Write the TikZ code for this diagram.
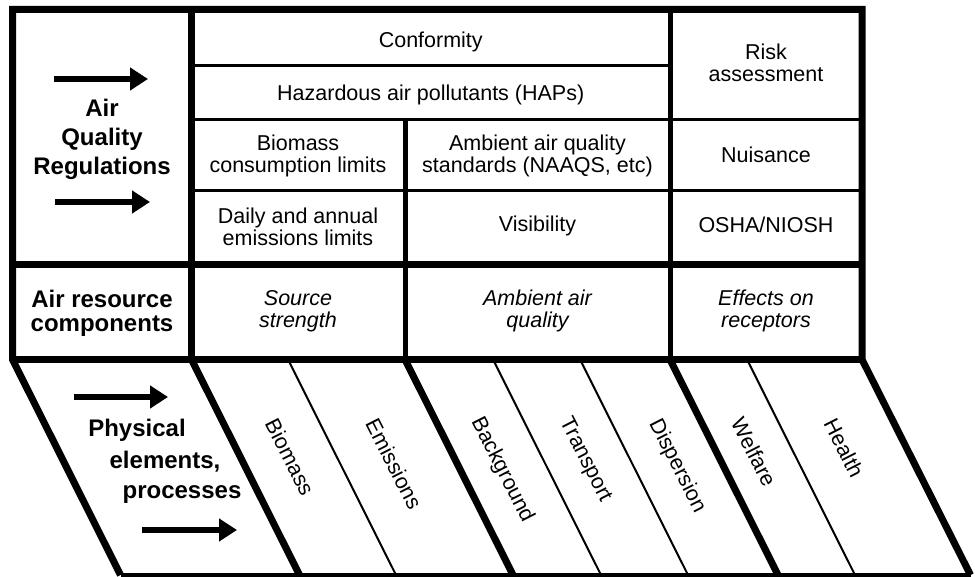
\documentclass[tikz,border=0pt]{standalone}
\usepackage{fontspec}
\setmainfont{Liberation Sans}
\usetikzlibrary{arrows.meta}

\begin{document}
\begin{tikzpicture}[x=1pt, y=-1pt,
    heavyrule/.style={line width=7pt},
    midrule/.style={line width=5pt},
    lightrule/.style={line width=2.4pt},
    slantrule/.style={line width=2pt},
    bigarrow/.style={line width=5.5pt, -{Triangle[length=18pt, width=22pt]}},
    cell/.style={align=center, inner sep=0pt, font=\fontsize{21.5}{22.5}\selectfont},
    cellit/.style={cell, font=\fontsize{21.5}{22.5}\selectfont\itshape},
    headbf/.style={align=center, inner sep=0pt, font=\fontsize{24}{24}\selectfont\bfseries},
    slantlabel/.style={inner sep=0pt, rotate=-63, font=\fontsize{21.5}{22.5}\selectfont}]
  \useasboundingbox (0,0) rectangle (975,577);

  % Frame
  \draw[heavyrule, line join=miter] (970.5,575) -- (862,359.5) -- (862,9.5)
    -- (12.5,9.5) -- (12.5,359.5) -- (120.5,575);
  \draw[line width=3.5pt] (120.5,575) -- (970.5,575);

  % Row rules
  \draw[heavyrule] (12.5,264.5) -- (862,264.5);
  \draw[heavyrule] (12.5,359.5) -- (862,359.5);
  \draw[lightrule] (191.5,65.5) -- (670,65.5);
  \draw[lightrule] (191.5,119.5) -- (862,119.5);
  \draw[lightrule] (191.5,190.5) -- (862,190.5);

  % Column rules
  \draw[heavyrule] (191.5,9.5) -- (191.5,359.5);
  \draw[midrule] (405,119.5) -- (405,359.5);
  \draw[midrule] (670,9.5) -- (670,359.5);

  % Slanted strips
  \foreach \x in {191.5, 405, 670}
    \draw[heavyrule] (\x,359.5) -- ++(108,215.5);
  \foreach \x in {288, 493, 580, 747}
    \draw[slantrule] (\x,359.5) -- ++(108,215.5);

  % Regulations
  \node[headbf, font=\fontsize{24}{29}\selectfont\bfseries] (aqr) at (102,139.5) {Air\\Quality\\Regulations};
  \draw[bigarrow] (54,79) -- (148,79);
  \draw[bigarrow] (55,202) -- (150,202);

  \node[cell] (conf) at (430.75,42) {Conformity};
  \node[cell] (haps) at (430.75,95) {Hazardous air pollutants (HAPs)};
  \node[cell] (risk) at (766,63) {Risk\\assessment};
  \node[cell] (biocons) at (298,156) {Biomass\\consumption limits};
  \node[cell] (naaqs) at (537.5,156) {Ambient air quality\\standards (NAAQS, etc)};
  \node[cell] (nuis) at (766,155) {Nuisance};
  \node[cell] (daily) at (298,227) {Daily and annual\\emissions limits};
  \node[cell] (visib) at (537.5,226) {Visibility};
  \node[cell] (osha) at (766,225) {OSHA/NIOSH};

  % Components
  \node[headbf] (arc) at (102,313) {Air resource\\components};
  \node[cellit] (source) at (298,311) {Source\\strength};
  \node[cellit] (ambient) at (537.5,311) {Ambient air\\quality};
  \node[cellit] (effects) at (766,311) {Effects on\\receptors};

  % Physical elements
  \node[headbf] (phys) at (137,430) {Physical};
  \node[headbf] (elem) at (165,462) {elements,};
  \node[headbf] (proc) at (182,495) {processes};
  \draw[bigarrow] (74,397) -- (168,397);
  \draw[bigarrow] (142,530) -- (237,530);

  \foreach \n/\x/\y/\t in {bio/290/457/Biomass, emis/394/464/Emissions,
      backgr/502/470/Background, transp/585/460/Transport,
      disp/677/466/Dispersion, welf/754/452/Welfare, health/844/448/Health}
    \node[slantlabel] (\n) at (\x,\y) {\t};
\end{tikzpicture}
\end{document}
